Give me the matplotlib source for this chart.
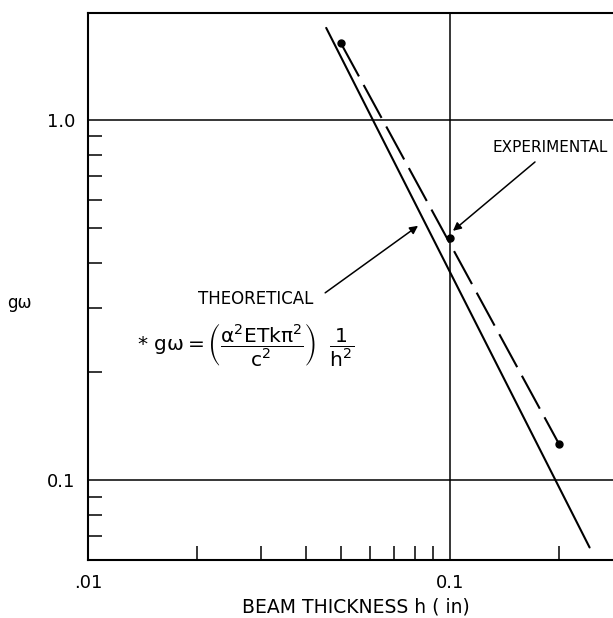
import matplotlib
matplotlib.use("Agg")
import matplotlib.pyplot as plt
from matplotlib.ticker import FixedLocator, NullFormatter, FixedFormatter

plt.rcParams.update(
    {
        "font.family": "DejaVu Sans",
        "font.size": 13,
        "mathtext.default": "regular",
    }
)

# Theoretical line (end points, slope -2)
h_theory = [0.0455, 0.243]
g_theory = [1.80, 0.065]

# Experimental points
h_exp = [0.05, 0.1, 0.2]
g_exp = [1.63, 0.47, 0.126]

x_major = [0.01, 0.1]
x_major_labels = [".01", "0.1"]
x_minor = [0.02, 0.03, 0.04, 0.05, 0.06, 0.07, 0.08, 0.09, 0.2]
y_major = [0.1, 1.0]
y_major_labels = ["0.1", "1.0"]
y_minor = [0.07, 0.08, 0.09, 0.2, 0.3, 0.4, 0.5, 0.6, 0.7, 0.8, 0.9]

fig = plt.figure(figsize=(6.13, 6.18), dpi=100)
ax = fig.add_axes([88 / 613, 58 / 618, 525 / 613, 547 / 618])
ax.set_xscale("log")
ax.set_yscale("log")
ax.set_xlim(0.01, 0.282)
ax.set_ylim(0.06, 1.98)

# grid lines only at the decades
for x in x_major[1:]:
    ax.axvline(x, color="black", lw=1.1, zorder=1)
for y in y_major:
    ax.axhline(y, color="black", lw=1.1, zorder=1)

ax.plot(h_theory, g_theory, color="black", lw=1.5, solid_capstyle="round")
ax.plot([h_exp[0], h_exp[-1]], [g_exp[0], g_exp[-1]], color="black", lw=1.5,
        dashes=(18, 4.7))
ax.plot(h_exp, g_exp, "o", color="black", ms=5, zorder=5)

ax.xaxis.set_major_locator(FixedLocator(x_major))
ax.xaxis.set_major_formatter(FixedFormatter(x_major_labels))
ax.xaxis.set_minor_locator(FixedLocator(x_minor))
ax.xaxis.set_minor_formatter(NullFormatter())
ax.yaxis.set_major_locator(FixedLocator(y_major))
ax.yaxis.set_major_formatter(FixedFormatter(y_major_labels))
ax.yaxis.set_minor_locator(FixedLocator(y_minor))
ax.yaxis.set_minor_formatter(NullFormatter())

ax.tick_params(which="major", length=0, pad=9, labelsize=13)
ax.tick_params(which="minor", direction="in", length=10, width=1.1)
ax.tick_params(axis="x", which="major", pad=10)

for side in ["left", "bottom", "top"]:
    ax.spines[side].set_linewidth(1.5)
ax.spines["right"].set_visible(False)

ax.set_xlabel("BEAM THICKNESS h ( in)", fontsize=13.5)
ax.xaxis.set_label_coords(0.51, -0.068)
ax.set_ylabel("g\u03c9", rotation=0, fontsize=12, va="center", ha="center")
ax.yaxis.set_label_coords(-0.13, 0.47)

arrow = dict(arrowstyle="-|>", lw=1.1, color="black", mutation_scale=12,
             shrinkA=0, shrinkB=0)
ax.annotate("", xy=(0.0816, 0.508), xytext=(0.0452, 0.331), arrowprops=arrow)
ax.annotate("", xy=(0.1019, 0.492), xytext=(0.1717, 0.764), arrowprops=arrow)

ax.text(0.0291, 0.318, "THEORETICAL", ha="center", va="center", fontsize=12)
ax.text(0.273, 0.836, "EXPERIMENTAL", ha="right", va="center", fontsize=11)
ax.text(0.0137, 0.238,
        r"$*\ g\omega = \left(\dfrac{\alpha^{2}ETk\pi^{2}}{c^{2}}\right)\ \ \dfrac{1}{h^{2}}$",
        ha="left", va="center", fontsize=14.5)

fig.savefig("out.png", dpi=100)
